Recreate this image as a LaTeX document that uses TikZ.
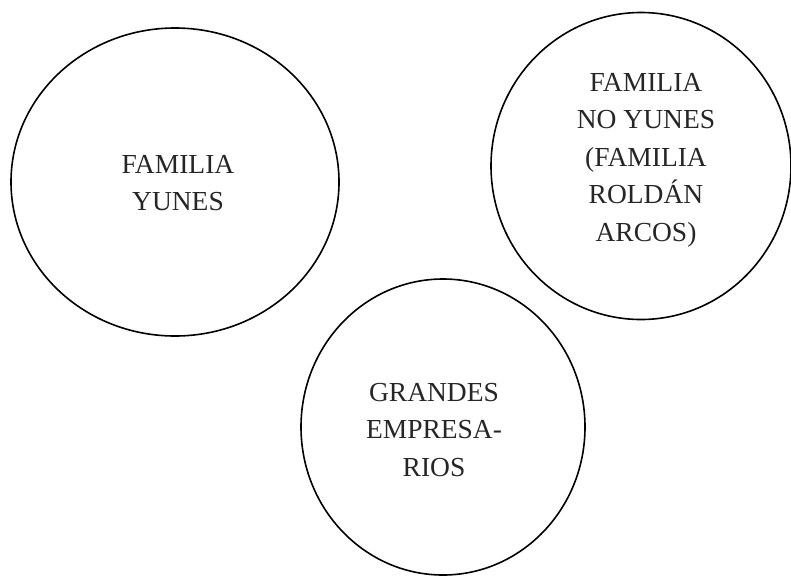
\documentclass[tikz,border=0pt]{standalone}
\usepackage{fontspec}
\setmainfont{Liberation Serif}
\usetikzlibrary{shapes.geometric}
\begin{document}
\begin{tikzpicture}[x=1pt,y=-1pt,
  blob/.style={draw=black,line width=1.6pt,ellipse,inner sep=0pt},
  lbl/.style={align=center,font=\fontsize{27.5}{37.5}\selectfont,text=black!85,inner sep=0pt}]
\useasboundingbox (0,0) rectangle (791,576);
\node[blob,minimum width=328pt,minimum height=308pt] (yunes) at (175,182) {};
\node[lbl] (tyunes) at (178,183) {FAMILIA\\YUNES};
\node[blob,minimum width=300pt,minimum height=307pt] (noyunes) at (641,166) {};
\node[lbl] (tnoyunes) at (646,160) {FAMILIA\\NO YUNES\\(FAMILIA\\ROLDÁN\\ARCOS)};
\node[blob,minimum width=284pt,minimum height=296pt] (grandes) at (443,427) {};
\node[lbl] (tgrandes) at (434,430) {GRANDES\\EMPRESA-\\RIOS};
\end{tikzpicture}
\end{document}
